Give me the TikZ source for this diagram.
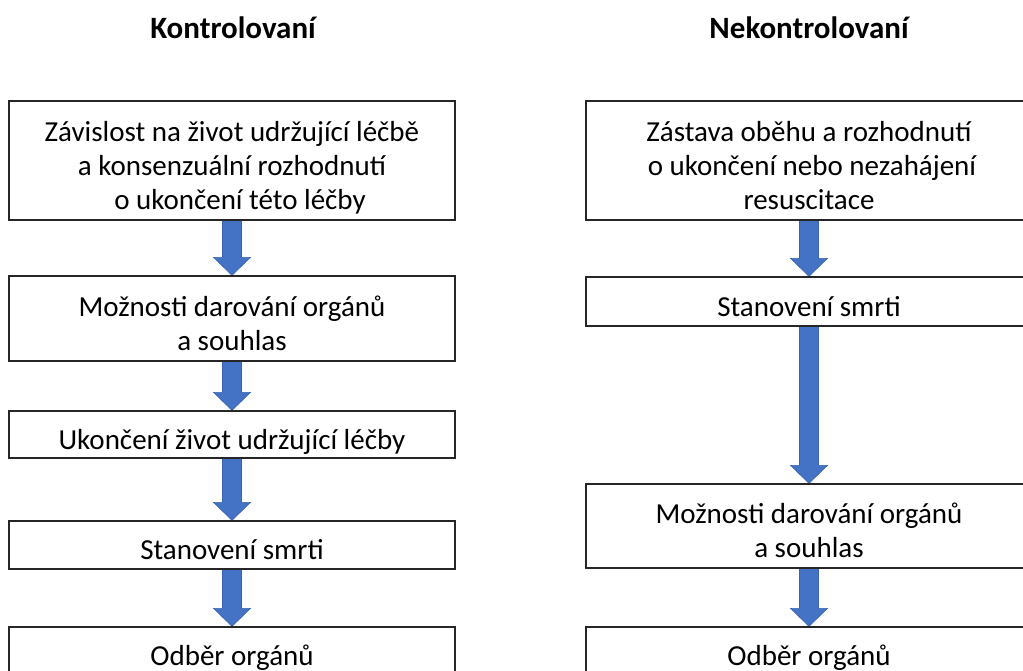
\documentclass[tikz,border=0pt]{standalone}
\usepackage{fontspec}
\setmainfont{Carlito}
\usetikzlibrary{calc,backgrounds}
\definecolor{arrowblue}{HTML}{4472C4}
\definecolor{arrowedge}{HTML}{3A64B0}
\newcommand{\boxtext}[1]{\raisebox{-14pt}[0pt][0pt]{\begin{tabular}{@{}c@{}}#1\end{tabular}}}
\newcommand{\blkarrow}[2]{%
  \draw[blockarrow] let \p1=(#1.south), \p2=(#2.north) in
    (\x1-9.5pt,\y1) -- (\x1-9.5pt,\y2+18pt) -- (\x1-18.5pt,\y2+18pt) -- (\x1,\y2)
    -- (\x1+18.5pt,\y2+18pt) -- (\x1+9.5pt,\y2+18pt) -- (\x1+9.5pt,\y1) -- cycle;}
\begin{document}
\begin{tikzpicture}[x=1pt,y=1pt,
  box/.style={draw=black!85, line width=1.3pt, rectangle, minimum width=446pt,
    font=\fontsize{29}{34}\selectfont, inner sep=0pt},
  title/.style={font=\fontsize{31}{36}\selectfont\bfseries},
  blockarrow/.style={fill=arrowblue, draw=arrowedge, line width=0.6pt}]
\useasboundingbox (0,0) rectangle (1023,670);
\clip (0,0) rectangle (1023,670);

\node[title] (tl) at (233,642) {Kontrolovaní};
\node[title] (tr) at (809,642) {Nekontrolovaní};

% left column
\node[box, minimum height=119pt] (l1) at (232,509.5) {\boxtext{Závislost na život udržující léčbě\\a konsenzuální rozhodnutí\\\hspace*{16pt}o ukončení této léčby}};
\node[box, minimum height=85pt] (l2) at (232,351.5) {\boxtext{Možnosti darování orgánů\\a souhlas}};
\node[box, minimum height=47pt] (l3) at (232,235.5) {\boxtext{Ukončení život udržující léčby}};
\node[box, minimum height=48pt] (l4) at (232,125) {\boxtext{Stanovení smrti}};
\node[box, minimum height=48pt] (l5) at (232,19) {\boxtext{Odběr orgánů}};

% right column
\node[box, minimum height=119pt] (r1) at (809,509.5) {\boxtext{Zástava oběhu a rozhodnutí\\\hspace*{6pt}o ukončení nebo nezahájení\\resuscitace}};
\node[box, minimum height=49pt] (r2) at (809,368.5) {\boxtext{Stanovení smrti}};
\node[box, minimum height=84pt] (r3) at (809,144) {\boxtext{Možnosti darování orgánů\\a souhlas}};
\node[box, minimum height=48pt] (r4) at (809,19) {\boxtext{Odběr orgánů}};

\begin{pgfonlayer}{background}
\blkarrow{l1}{l2}
\blkarrow{l2}{l3}
\blkarrow{l3}{l4}
\blkarrow{l4}{l5}
\blkarrow{r1}{r2}
\blkarrow{r2}{r3}
\blkarrow{r3}{r4}
\end{pgfonlayer}
\end{tikzpicture}
\end{document}
